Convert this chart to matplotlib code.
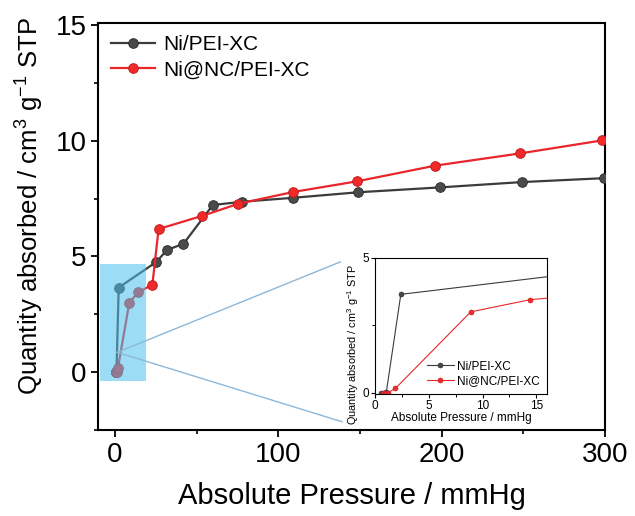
import matplotlib
matplotlib.use("Agg")
from matplotlib import pyplot
from matplotlib.patches import Rectangle
from matplotlib.ticker import MultipleLocator

# Ni/PEI-XC
ni_p = [0.6, 0.8, 1.05, 2.4, 25.5, 32, 42, 60, 78, 109, 149, 199, 249, 299.5]
ni_q = [0.0, 0.0, 0.02, 3.65, 4.76, 5.28, 5.54, 7.22, 7.36, 7.53, 7.77, 7.98, 8.21, 8.38]
# Ni@NC/PEI-XC
nc_p = [0.7, 0.9, 1.2, 1.9, 8.9, 14.4, 23.0, 26.8, 53.5, 75.5, 109, 148, 196, 248, 298]
nc_q = [0.0, 0.0, 0.0, 0.16, 3.0, 3.45, 3.77, 6.18, 6.75, 7.27, 7.78, 8.24, 8.92, 9.45, 10.01]

labels = ["Ni/PEI-XC", "Ni@NC/PEI-XC"]

pyplot.rcParams["font.family"] = ["Liberation Sans", "DejaVu Sans"]
pyplot.rcParams["mathtext.fontset"] = "custom"
pyplot.rcParams["mathtext.rm"] = "Liberation Sans"

black_line = "#3c3c3c"
black_face = "#4a4a4a"
red_line = "#e8262b"
red_face = "#ee2a2a"

fig = pyplot.figure(figsize=(6.35, 5.16), dpi=100, facecolor="w")
ax = fig.add_axes([0.155, 0.167, 0.798, 0.789])

ax.plot(ni_p, ni_q, color=black_line, lw=1.6, marker="o", ms=7,
        mfc=black_face, mec="#2a2a2a", mew=0.6, label=labels[0], zorder=3)
ax.plot(nc_p, nc_q, color=red_line, lw=1.6, marker="o", ms=7,
        mfc=red_face, mec="#c01818", mew=0.6, label=labels[1], zorder=4)

# highlighted zoom region
ax.add_patch(Rectangle((-8.8, -0.4), 27.6, 5.05, facecolor="#4cc0ec",
                       alpha=0.55, edgecolor="none", zorder=5))
ax.plot([1.5, 138], [0.85, 4.76], color="#8db8da", lw=1.0, zorder=5)
ax.plot([1.5, 139], [0.85, -2.15], color="#8db8da", lw=1.0, zorder=5)

ax.set_xlim(-10, 300)
ax.set_ylim(-2.5, 15.1)
ax.set_xticks([0, 100, 200, 300])
ax.set_yticks([0, 5, 10, 15])
ax.xaxis.set_minor_locator(MultipleLocator(50))
ax.yaxis.set_minor_locator(MultipleLocator(2.5))
ax.tick_params(which="major", direction="out", length=5, width=1.3, labelsize=20)
ax.tick_params(which="minor", direction="out", length=3, width=1.2)
for s in ax.spines.values():
    s.set_linewidth(1.5)
ax.set_xlabel("Absolute Pressure / mmHg", fontsize=21, labelpad=10)
ax.set_ylabel("Quantity absorbed / cm$^3$ g$^{-1}$ STP", fontsize=18.5)
ax.yaxis.set_label_coords(-0.105, 0.55)

leg = ax.legend(loc="upper left", frameon=False, fontsize=15, handlelength=2.1,
                borderaxespad=0.2, labelspacing=0.3, handletextpad=0.4)

# inset
axi = fig.add_axes([0.5906, 0.2364, 0.2709, 0.2636])
axi.plot(ni_p, ni_q, color=black_line, lw=0.8, marker="o", ms=3.6,
         mfc=black_face, mec="#2a2a2a", mew=0.4, label=labels[0])
axi.plot(nc_p, nc_q, color=red_line, lw=0.8, marker="o", ms=3.6,
         mfc=red_face, mec="#c01818", mew=0.4, label=labels[1])
axi.set_xlim(0, 16)
axi.set_ylim(-0.05, 5)
axi.set_xticks([0, 5, 10, 15])
axi.set_yticks([0, 5])
axi.xaxis.set_minor_locator(MultipleLocator(2.5))
axi.yaxis.set_minor_locator(MultipleLocator(2.5))
axi.tick_params(which="major", direction="out", length=3, width=0.8, labelsize=8.5, pad=1.5)
axi.tick_params(which="minor", direction="out", length=2, width=0.7)
for s in axi.spines.values():
    s.set_linewidth(0.8)
axi.set_xlabel("Absolute Pressure / mmHg", fontsize=8.5, labelpad=0)
axi.set_ylabel("Quantity absorbed / cm$^3$ g$^{-1}$ STP", fontsize=7.8, labelpad=2)
axi.yaxis.set_label_coords(-0.08, 0.36)
axi.legend(loc="lower right", frameon=False, fontsize=8.5, handlelength=2.3,
           borderaxespad=0.2, labelspacing=0.2, handletextpad=0.3)

pyplot.savefig("out.png", dpi=100, facecolor="w")
